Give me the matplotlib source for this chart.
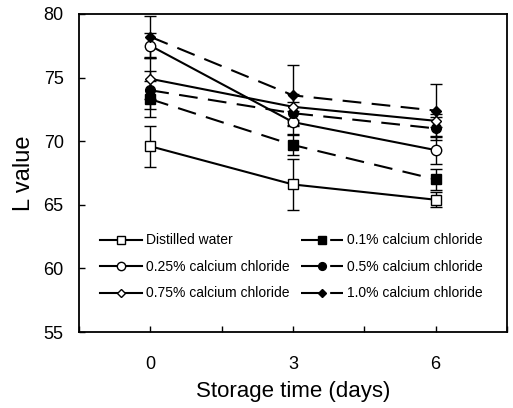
import numpy as np
from matplotlib import pyplot as plt
from matplotlib.lines import Line2D

plt.rcParams['font.family'] = ['Liberation Sans', 'DejaVu Sans']

days = [0, 3, 6]

labels = ['Distilled water', '0.1% calcium chloride',
          '0.25% calcium chloride', '0.5% calcium chloride',
          '0.75% calcium chloride', '1.0% calcium chloride']

water = [69.6, 66.6, 65.4]
cacl_01 = [73.3, 69.7, 67.0]
cacl_025 = [77.5, 71.5, 69.3]
cacl_05 = [74.0, 72.2, 71.0]
cacl_075 = [74.9, 72.7, 71.6]
cacl_10 = [78.2, 73.6, 72.4]

err_water = [1.6, 2.0, 0.6]
err_01 = [1.4, 0.8, 0.8]
err_025 = [1.0, 0.9, 1.1]
err_05 = [1.5, 0.9, 0.9]
err_075 = [1.6, 1.0, 0.5]
err_10 = [1.6, 2.4, 2.1]

series = [water, cacl_01, cacl_025, cacl_05, cacl_075, cacl_10]
errors = [err_water, err_01, err_025, err_05, err_075, err_10]
markers = ['s', 's', 'o', 'o', 'D', 'D']
faces = ['white', 'black', 'white', 'black', 'white', 'black']
dashed = (0, (9, 5))
styles = ['-', dashed, '-', dashed, '-', dashed]
sizes = [7, 7, 7.5, 7, 5.5, 5.5]

fig = plt.figure(figsize=(5.13, 4.08), dpi=100)
ax = fig.add_axes([0.154, 0.186, 0.834, 0.780])

handles = []
for y, e, m, fc, ls, ms, lab in zip(series, errors, markers, faces, styles, sizes, labels):
    ax.errorbar(days, y, yerr=e, color='black', ecolor='black', elinewidth=1,
                capsize=4, capthick=1, linestyle=ls, linewidth=1.5,
                marker=m, markersize=ms, markerfacecolor=fc,
                markeredgecolor='black', markeredgewidth=1)
    handles.append(Line2D([], [], color='black', linestyle=ls, linewidth=1.5,
                          marker=m, markersize=ms * 0.8, markerfacecolor=fc,
                          markeredgecolor='black', markeredgewidth=1, label=lab))

ax.set_xlim(-1.5, 7.5)
ax.set_ylim(55, 80)
ax.set_xticks([-1.5, 0, 1.5, 3, 4.5, 6, 7.5])
ax.set_xticklabels(['', '0', '', '3', '', '6', ''])
ax.set_yticks(np.arange(55, 81, 5))
ax.tick_params(direction='in', length=4, width=1, labelsize=13)
ax.tick_params(axis='x', pad=17)
ax.tick_params(axis='y', pad=11)
for s in ax.spines.values():
    s.set_linewidth(1.3)

ax.set_xlabel('Storage time (days)', fontsize=16, labelpad=6)
ax.set_ylabel('L value', fontsize=17, labelpad=6)

# legend filled row by row: left column then right column
order = [0, 2, 4, 1, 3, 5]
ax.legend([handles[i] for i in order], [labels[i] for i in order],
          ncol=2, frameon=False, loc='upper left',
          bbox_to_anchor=(0.05, 0.31), borderaxespad=0, borderpad=0,
          fontsize=10, handlelength=3, handletextpad=0.3,
          columnspacing=0.8, labelspacing=0.9)

fig.savefig('out.png', dpi=100)
